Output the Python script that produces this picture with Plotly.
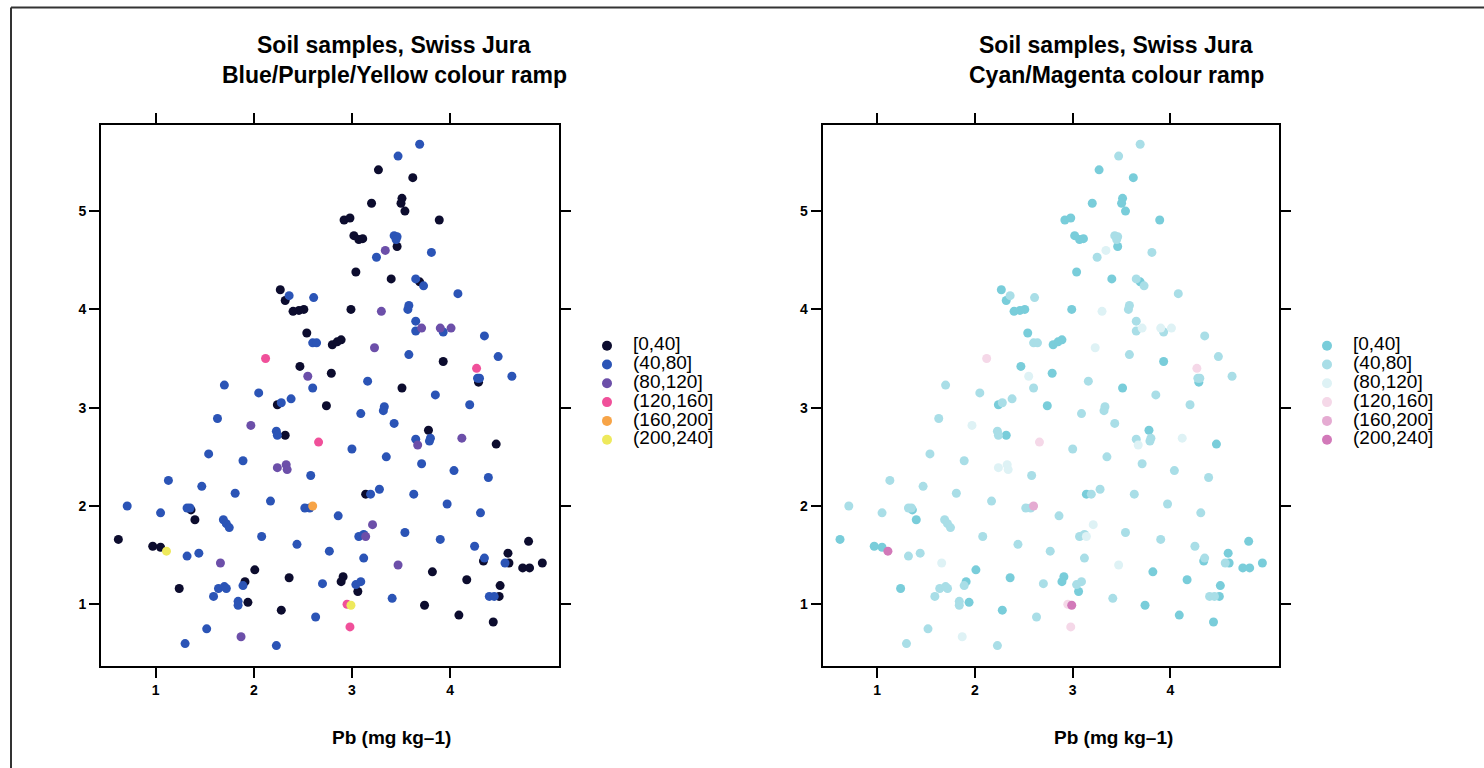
import plotly.graph_objects as go

W, H = 1484, 768

# Pb concentration classes and the two colour ramps
class_labels = ["[0,40]", "(40,80]", "(80,120]", "(120,160]", "(160,200]", "(200,240]"]
ramp_bpy = ["#0c0c2e", "#2b54b6", "#6c4fa9", "#f0509a", "#f7a447", "#eee95c"]
ramp_cm = ["#79cdda", "#a9dee7", "#def2f5", "#f5d8e8", "#e5abd2", "#d279b9"]

# Sample locations (east, north) and Pb class index of each sample
east = [
    2.27, 2.36, 2.32, 2.61, 2.46, 2.51,
    3.69, 3.47, 3.27, 3.62, 3.20, 3.51, 3.50, 3.54, 2.92, 2.98, 3.89, 3.02, 3.07, 3.11,
    3.43, 3.46, 3.45, 3.46, 3.34, 3.25, 3.81, 3.04, 3.40, 3.65, 3.69, 3.73, 4.08, 2.99,
    3.30, 3.58, 3.57,
    2.40, 2.54, 2.60, 2.64, 2.12, 2.47, 2.55, 2.79, 1.70, 2.05, 2.60, 2.24, 2.28, 2.38,
    2.74, 1.63, 1.97, 2.23, 2.24, 2.32, 2.66, 1.54, 1.89, 2.24, 2.33, 2.34, 2.58, 1.13,
    1.47, 1.81,
    3.65, 3.65, 3.71, 3.90, 4.01, 3.93, 4.35, 2.80, 2.85, 2.89, 3.23, 3.58, 4.49, 3.93,
    4.27, 4.28, 4.30, 4.29, 4.63, 3.16, 3.51, 3.85, 3.09, 3.33, 3.32, 4.20, 3.43, 3.78,
    3.65, 3.80, 3.79, 3.67, 4.12, 4.47, 3.00, 3.35, 3.71, 4.04, 4.39, 3.28, 3.14, 3.19,
    3.63,
    2.17, 0.71, 1.05, 1.32, 1.35, 1.36, 1.40, 2.52, 2.57, 2.60, 1.69, 1.72, 1.75, 0.62,
    2.08, 2.44, 2.77, 0.97, 1.05, 1.11, 1.32, 1.44, 1.66, 2.01, 2.36, 2.70, 1.24, 1.64,
    1.70, 1.72, 1.59, 1.91, 1.89, 1.84, 1.84, 1.94, 2.28, 2.63, 1.52, 1.87, 1.30, 2.23,
    3.97, 4.31, 2.86, 3.21, 3.07, 3.12, 3.14, 3.54, 3.90, 4.25, 4.80, 3.12, 3.47, 4.35,
    4.34, 4.59, 4.56, 4.60, 4.74, 4.81, 4.94, 3.82, 4.17, 2.91, 2.89, 3.04, 3.09, 3.06,
    4.51, 4.40, 4.45, 4.50, 2.95, 2.99, 3.41, 3.74, 4.09, 4.44, 2.98,
]
north = [
    4.20, 4.14, 4.09, 4.12, 3.99, 4.00,
    5.68, 5.56, 5.42, 5.34, 5.08, 5.13, 5.08, 5.00, 4.91, 4.93, 4.91, 4.75, 4.71, 4.72,
    4.75, 4.74, 4.71, 4.64, 4.60, 4.53, 4.58, 4.38, 4.31, 4.31, 4.28, 4.24, 4.16, 4.00,
    3.98, 4.04, 4.00,
    3.98, 3.76, 3.66, 3.66, 3.50, 3.42, 3.32, 3.35, 3.23, 3.15, 3.20, 3.03, 3.05, 3.09,
    3.02, 2.89, 2.82, 2.76, 2.72, 2.72, 2.65, 2.53, 2.46, 2.39, 2.42, 2.37, 2.31, 2.26,
    2.20, 2.13,
    3.88, 3.78, 3.81, 3.81, 3.81, 3.77, 3.73, 3.64, 3.67, 3.69, 3.61, 3.54, 3.52, 3.47,
    3.40, 3.30, 3.30, 3.26, 3.32, 3.27, 3.20, 3.13, 2.94, 3.01, 2.97, 3.03, 2.84, 2.77,
    2.68, 2.69, 2.66, 2.62, 2.69, 2.63, 2.58, 2.50, 2.43, 2.36, 2.29, 2.17, 2.12, 2.12,
    2.12,
    2.05, 2.00, 1.93, 1.98, 1.98, 1.96, 1.86, 1.98, 1.98, 2.00, 1.86, 1.82, 1.78, 1.66,
    1.69, 1.61, 1.54, 1.59, 1.58, 1.54, 1.49, 1.52, 1.42, 1.35, 1.27, 1.21, 1.16, 1.16,
    1.18, 1.16, 1.08, 1.23, 1.19, 1.03, 0.99, 1.02, 0.94, 0.87, 0.75, 0.67, 0.60, 0.58,
    2.02, 1.93, 1.90, 1.81, 1.69, 1.71, 1.69, 1.73, 1.66, 1.59, 1.64, 1.47, 1.40, 1.47,
    1.44, 1.52, 1.42, 1.42, 1.37, 1.37, 1.42, 1.33, 1.25, 1.28, 1.23, 1.20, 1.23, 1.13,
    1.19, 1.08, 1.08, 1.08, 1.00, 0.99, 1.06, 0.99, 0.89, 0.82, 0.77,
]
pb_class = [
    0, 1, 0, 1, 0, 0,
    1, 1, 0, 0, 0, 0, 0, 0, 0, 0, 0, 0, 0, 0,
    1, 1, 1, 0, 2, 1, 1, 0, 0, 1, 0, 1, 1, 0,
    2, 1, 1,
    0, 0, 1, 1, 3, 0, 2, 0, 1, 1, 1, 0, 1, 1,
    0, 1, 2, 1, 1, 0, 3, 1, 1, 2, 2, 2, 1, 1,
    1, 1,
    1, 1, 2, 2, 2, 1, 1, 0, 0, 0, 2, 1, 1, 0,
    3, 1, 1, 0, 1, 1, 0, 1, 1, 1, 1, 1, 1, 0,
    1, 1, 1, 2, 2, 0, 1, 1, 1, 1, 1, 1, 0, 1,
    1,
    1, 1, 1, 1, 1, 0, 0, 1, 1, 4, 1, 1, 1, 0,
    1, 1, 1, 0, 0, 5, 1, 1, 2, 0, 0, 1, 0, 1,
    1, 1, 1, 0, 1, 1, 1, 0, 0, 1, 1, 2, 1, 1,
    1, 1, 1, 2, 1, 1, 2, 1, 1, 1, 0, 1, 2, 1,
    0, 0, 1, 0, 0, 0, 0, 0, 0, 0, 0, 1, 1, 0,
    0, 1, 1, 0, 3, 5, 1, 0, 0, 0, 3,
]

x_ticks = [1, 2, 3, 4]
y_ticks = [1, 2, 3, 4, 5]
x_range = [0.443, 5.11]
y_range = [0.372, 5.876]
main_title = "Soil samples, Swiss Jura"
ramp_titles = ["Blue/Purple/Yellow colour ramp", "Cyan/Magenta colour ramp"]
x_title = "Pb (mg kg–1)"


def fx(p):
    return p / W


def fy(p):
    return 1 - p / H


FONT = "Liberation Sans, Arial, Helvetica, sans-serif"

fig = go.Figure()

panels = [
    dict(ramp=ramp_bpy, xa="x", ya="y", lxa="x3", lya="y3",
         dom=(101, 559), leg=(590, 740), center=394),
    dict(ramp=ramp_cm, xa="x2", ya="y2", lxa="x4", lya="y4",
         dom=(822.7, 1279), leg=(1310, 1460), center=1116),
]

for pi, pnl in enumerate(panels):
    # scatter of samples, one trace per class so higher classes sit on top
    for ci, lab in enumerate(class_labels):
        xs = [e for e, c in zip(east, pb_class) if c == ci]
        ys = [n for n, c in zip(north, pb_class) if c == ci]
        fig.add_trace(go.Scatter(
            x=xs, y=ys, mode="markers", xaxis=pnl["xa"], yaxis=pnl["ya"],
            marker=dict(size=9, color=pnl["ramp"][ci], line=dict(width=0)),
            name=lab, showlegend=False, hoverinfo="x+y+name",
        ))
    # key: coloured dots with class labels
    fig.add_trace(go.Scatter(
        x=[17] * len(class_labels), y=list(range(len(class_labels))),
        mode="markers", xaxis=pnl["lxa"], yaxis=pnl["lya"],
        marker=dict(size=10, color=pnl["ramp"], line=dict(width=0)),
        showlegend=False, hoverinfo="skip",
    ))
    fig.add_trace(go.Scatter(
        x=[43] * len(class_labels), y=list(range(len(class_labels))),
        mode="text", text=class_labels, textposition="middle right",
        textfont=dict(family=FONT, size=19, color="black"),
        xaxis=pnl["lxa"], yaxis=pnl["lya"],
        showlegend=False, hoverinfo="skip",
    ))

axis_common = dict(
    showgrid=False, zeroline=False, showline=True, linewidth=2, linecolor="black",
    mirror="ticks", ticks="outside", ticklen=10, tickwidth=2, tickcolor="black",
    tickfont=dict(family=FONT, size=14, color="black", weight="bold"),
)
hidden = dict(visible=False, showgrid=False, zeroline=False, fixedrange=True)

row0, row_step = 345.7, 18.8
leg_top, leg_bot = 330, 455
leg_yrange = [(leg_bot - row0) / row_step, (leg_top - row0) / row_step]

ydom = [fy(666), fy(125)]
fig.update_layout(
    width=W, height=H, margin=dict(l=0, r=0, t=0, b=0),
    paper_bgcolor="white", plot_bgcolor="white",
    xaxis=dict(domain=[fx(101), fx(559)], range=x_range, tickvals=x_ticks, anchor="y", **axis_common),
    yaxis=dict(domain=ydom, range=y_range, tickvals=y_ticks, anchor="x", **axis_common),
    xaxis2=dict(domain=[fx(822.7), fx(1279)], range=x_range, tickvals=x_ticks, anchor="y2", **axis_common),
    yaxis2=dict(domain=ydom, range=y_range, tickvals=y_ticks, anchor="x2", **axis_common),
    xaxis3=dict(domain=[fx(590), fx(740)], range=[0, 150], anchor="y3", **hidden),
    yaxis3=dict(domain=[fy(leg_bot), fy(leg_top)], range=leg_yrange, anchor="x3", **hidden),
    xaxis4=dict(domain=[fx(1310), fx(1460)], range=[0, 150], anchor="y4", **hidden),
    yaxis4=dict(domain=[fy(leg_bot), fy(leg_top)], range=leg_yrange, anchor="x4", **hidden),
    showlegend=False,
)

annotations = []
for pi, pnl in enumerate(panels):
    annotations.append(dict(
        x=fx(pnl["center"]), y=fy(45), xref="paper", yref="paper", showarrow=False,
        text=main_title, xanchor="center", yanchor="middle",
        font=dict(family=FONT, size=23, color="black", weight="bold"),
    ))
    annotations.append(dict(
        x=fx(pnl["center"]), y=fy(75), xref="paper", yref="paper", showarrow=False,
        text=ramp_titles[pi], xanchor="center", yanchor="middle",
        font=dict(family=FONT, size=23, color="black", weight="bold"),
    ))
    annotations.append(dict(
        x=fx(pnl["center"] - 3), y=fy(737), xref="paper", yref="paper", showarrow=False,
        text=x_title, xanchor="center", yanchor="middle",
        font=dict(family=FONT, size=19, color="black", weight="bold"),
    ))
fig.update_layout(annotations=annotations)

# outer frame of the figure
fig.add_shape(type="line", xref="paper", yref="paper", x0=fx(11), x1=1.01, y0=fy(7.5), y1=fy(7.5),
              line=dict(color="#333333", width=2))
fig.add_shape(type="line", xref="paper", yref="paper", x0=fx(11), x1=fx(11), y0=-0.01, y1=fy(7.5),
              line=dict(color="#333333", width=2))

fig.write_html("out.html")
